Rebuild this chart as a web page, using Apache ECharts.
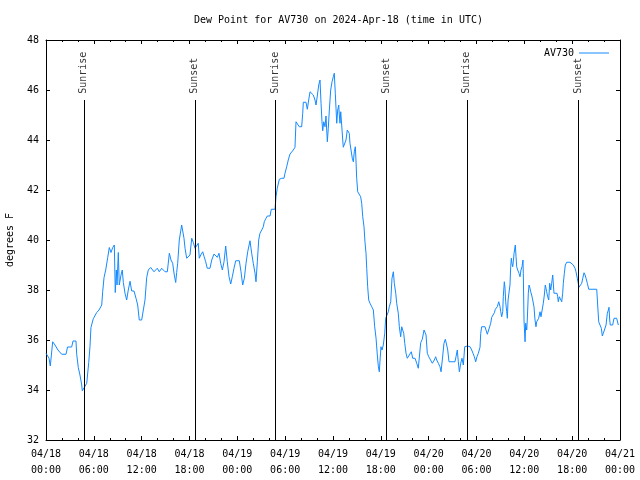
<!DOCTYPE html>
<html>
<head>
<meta charset="utf-8">
<script src="https://cdn.jsdelivr.net/npm/echarts@6/dist/echarts.min.js"></script>
<style>html,body{margin:0;padding:0;background:#fff;}#c{width:640px;height:480px;}</style>
</head>
<body>
<div id="c"></div>
<script>
// hours since 2024-04-18 00:00 UTC
const hours = [0.0,0.38,0.54,0.84,1.13,1.5,1.97,2.51,2.70,3.22,3.39,3.76,3.85,4.05,4.26,4.48,4.55,4.80,5.11,5.36,5.52,5.64,5.93,6.36,6.65,6.99,7.11,7.28,7.49,7.74,7.94,8.15,8.37,8.57,8.69,8.82,8.91,9.07,9.19,9.41,9.57,9.70,9.91,10.12,10.32,10.54,10.75,11.04,11.29,11.50,11.70,12.00,12.21,12.42,12.63,12.83,13.13,13.55,13.96,14.21,14.51,14.93,15.22,15.47,15.68,15.89,16.09,16.27,16.39,16.52,16.72,17.02,17.19,17.31,17.44,17.65,17.88,18.06,18.28,18.48,18.69,18.90,19.10,19.23,19.41,19.66,19.82,20.03,20.23,20.57,20.79,21.07,21.29,21.49,21.70,21.91,22.12,22.33,22.54,22.74,22.96,23.17,23.37,23.58,23.80,24.25,24.46,24.67,24.88,25.09,25.30,25.59,25.80,26.00,26.22,26.34,26.51,26.68,26.84,27.06,27.26,27.38,27.60,27.76,28.10,28.26,28.73,28.85,29.01,29.27,29.57,29.85,29.98,30.19,30.39,30.61,30.82,31.02,31.23,31.36,31.52,31.77,32.07,32.20,32.28,32.61,32.78,32.95,33.12,33.33,33.53,33.74,33.87,34.03,34.21,34.37,34.50,34.62,34.71,34.84,35.00,35.12,35.29,35.41,35.54,35.71,35.88,36.04,36.16,36.29,36.38,36.47,36.59,36.72,36.79,36.88,36.97,37.09,37.22,37.29,37.50,37.63,37.79,37.92,38.04,38.13,38.26,38.42,38.55,38.67,38.80,38.88,38.97,39.10,39.26,39.47,39.60,39.73,39.89,40.01,40.14,40.23,40.35,40.48,40.64,40.86,41.06,41.23,41.40,41.56,41.69,41.81,41.90,42.02,42.15,42.31,42.49,42.61,42.81,42.94,43.06,43.24,43.40,43.57,43.69,43.87,43.99,44.19,44.32,44.49,44.62,44.74,44.87,45.00,45.16,45.32,45.57,45.82,46.00,46.29,46.50,46.70,46.91,47.00,47.20,47.42,47.54,47.67,47.83,48.01,48.26,48.46,48.59,48.71,48.88,49.01,49.21,49.42,49.55,49.71,49.92,50.09,50.26,50.39,50.55,50.93,51.30,51.43,51.59,51.72,51.85,52.02,52.18,52.35,52.52,52.85,53.19,53.40,53.56,53.73,53.90,54.06,54.23,54.44,54.53,54.65,55.07,55.19,55.36,55.61,55.78,55.91,56.11,56.24,56.36,56.61,56.79,56.87,56.95,57.04,57.16,57.29,57.36,57.49,57.58,57.66,57.79,57.87,57.96,58.12,58.20,58.29,58.37,58.45,58.54,58.62,58.71,58.79,58.87,58.96,59.04,59.17,59.33,59.46,59.58,59.71,59.83,59.87,59.96,60.09,60.17,60.30,60.37,60.50,60.59,60.71,60.80,60.92,61.05,61.21,61.34,61.46,61.55,61.67,61.80,61.97,62.09,62.22,62.38,62.51,62.63,62.72,62.80,62.93,63.06,63.18,63.31,63.43,63.56,63.72,64.10,64.18,64.26,64.39,64.56,64.69,64.81,64.89,65.02,65.14,65.32,65.73,65.94,66.14,66.36,66.48,66.64,66.77,66.86,67.07,67.20,67.33,67.49,67.62,67.74,67.90,68.08,69.08,69.20,69.33,69.49,69.66,69.78,69.91,70.08,70.25,70.41,70.54,70.62,70.71,70.78,71.08,71.25,71.58,71.71,71.79];
const dewPoint = [35.47,35.27,34.96,35.93,35.8,35.6,35.43,35.43,35.72,35.72,35.96,35.96,35.43,34.9,34.6,34.2,33.97,34.1,34.27,35.1,35.75,36.5,36.85,37.1,37.2,37.4,37.93,38.5,38.8,39.3,39.7,39.5,39.7,39.8,37.9,38.8,38.2,39.5,38.2,38.6,38.8,38.3,37.87,37.6,38.0,38.35,37.96,37.96,37.67,37.4,36.8,36.8,37.2,37.6,38.5,38.8,38.9,38.73,38.87,38.73,38.87,38.73,38.73,39.47,39.2,39.07,38.6,38.3,38.7,39.07,40.0,40.6,40.6,40.07,39.67,39.27,39.3,39.4,40.07,39.9,39.67,39.75,39.87,39.27,39.4,39.53,39.35,39.13,38.87,38.87,39.2,39.44,39.47,39.31,39.47,39.07,38.8,39.13,39.76,39.13,38.53,38.24,38.53,38.87,39.17,39.17,38.73,38.2,38.47,39.07,39.53,39.97,39.47,39.07,38.67,38.33,39.13,40.0,40.27,40.4,40.53,40.73,40.87,40.96,40.96,41.23,41.23,41.73,42.07,42.43,42.47,42.47,42.67,42.93,43.2,43.44,43.5,43.6,43.71,44.73,44.69,44.53,44.53,45.07,45.51,45.51,45.23,45.6,45.93,45.87,45.8,45.6,45.4,45.76,46.2,46.4,45.47,44.73,44.37,44.73,44.53,44.96,43.93,44.47,45.2,46.0,46.33,46.53,46.67,45.87,45.27,44.67,45.2,45.4,45.0,44.67,45.13,44.6,44.0,43.71,43.76,44.0,44.4,44.43,44.27,43.87,43.6,43.27,43.13,43.53,43.73,43.2,42.47,41.93,41.87,41.73,41.47,40.93,40.53,39.93,39.47,38.87,38.13,37.6,37.47,37.33,37.2,36.53,36.07,35.4,34.93,34.73,35.2,35.73,35.6,35.8,36.27,36.87,36.93,37.13,37.33,37.53,38.47,38.73,38.27,37.87,37.47,37.07,36.53,36.13,36.53,36.53,36.27,35.87,35.47,35.27,35.27,35.53,35.27,35.27,35.07,34.87,34.87,35.89,36.03,36.4,36.47,36.2,35.47,35.33,35.27,35.07,35.07,35.2,35.33,35.2,35.07,34.93,34.73,35.2,35.87,36.03,35.8,35.6,35.13,35.13,35.13,35.33,35.6,35.13,34.73,35.07,35.27,35.0,35.73,35.76,35.73,35.6,35.47,35.33,35.13,35.33,35.47,35.71,36.27,36.53,36.53,36.4,36.23,36.23,36.67,36.91,36.91,37.09,37.23,37.33,37.53,37.6,37.33,37.13,36.93,37.13,37.73,38.33,38.07,37.53,37.13,36.87,37.6,37.6,38.2,38.93,39.27,39.07,38.93,39.13,39.47,39.4,39.8,39.33,38.93,38.8,38.67,38.53,38.8,38.93,39.2,38.67,36.8,35.93,36.67,36.4,36.8,37.87,38.2,38.07,37.93,37.8,37.6,37.33,36.8,36.53,36.73,36.67,36.87,37.13,36.93,36.87,37.47,37.8,38.2,38.07,37.93,37.73,37.6,38.27,38.0,38.27,38.6,37.87,37.87,37.73,37.53,37.73,37.73,37.53,37.87,38.27,38.67,39.0,39.11,39.11,39.03,39.0,38.87,38.73,38.47,38.4,38.11,38.11,38.27,38.47,38.69,38.6,38.47,38.27,38.03,38.03,37.4,36.73,36.6,36.47,36.16,36.27,36.33,36.6,37.07,37.2,37.31,36.8,36.6,36.6,36.87,36.87,36.8,36.6];
const eventHours = [4.75, 18.67, 28.73, 42.67, 52.78, 66.72];
const eventNames = ['Sunrise', 'Sunset', 'Sunrise', 'Sunset', 'Sunrise', 'Sunset'];
const dayLabels = ['04/18', '04/19', '04/20', '04/21'];
const yTicks = [32, 34, 36, 38, 40, 42, 44, 46, 48];

const FONT = 'DejaVu Sans Mono';
const LINE_TOP = 45.6;
const LABEL_BASE = 45.85;
const yMin = yTicks[0], yMax = yTicks[yTicks.length - 1];

const seriesData = hours.map((h, i) => [h, dewPoint[i]]);
const markData = eventHours.map(h => [{coord: [h, LINE_TOP]}, {coord: [h, yMin]}]);
const labelData = eventHours.map((h, i) => [h, LABEL_BASE, eventNames[i]]);

function xFmt(v) {
  const d = Math.floor(v / 24 + 1e-9);
  const hh = Math.round(v - d * 24);
  return dayLabels[d] + '\n' + String(hh).padStart(2, '0') + ':00';
}

const chart = echarts.init(document.getElementById('c'), null, {renderer: 'canvas'});
chart.setOption({
  animation: false,
  backgroundColor: '#ffffff',
  textStyle: {fontFamily: FONT},
  title: {
    text: 'Dew Point for AV730 on 2024-Apr-18 (time in UTC)',
    left: 189, top: 10,
    textStyle: {fontFamily: FONT, fontSize: 10, fontWeight: 'normal', color: '#000'}
  },
  legend: {
    data: ['AV730'],
    right: 26, top: 43,
    align: 'right',
    icon: 'rect', itemWidth: 30, itemHeight: 1, itemGap: 6,
    textStyle: {fontFamily: FONT, fontSize: 10, color: '#000'}
  },
  grid: {left: 46, right: 20, top: 40, bottom: 40, outerBoundsMode: 'none', containLabel: false},
  xAxis: [{
    type: 'value', min: 0, max: 72, interval: 6, position: 'bottom',
    axisLine: {onZero: false, lineStyle: {color: '#000', width: 1}},
    axisTick: {inside: true, length: 4, lineStyle: {color: '#000'}},
    minorTick: {show: true, splitNumber: 3, length: 2, lineStyle: {color: '#000'}},
    splitLine: {show: false},
    axisLabel: {formatter: xFmt, fontFamily: FONT, fontSize: 10, color: '#000', lineHeight: 16, margin: 6}
  }, {
    type: 'value', min: 0, max: 72, interval: 6, position: 'top',
    axisLine: {onZero: false, lineStyle: {color: '#000', width: 1}},
    axisTick: {inside: true, length: 4, lineStyle: {color: '#000'}},
    minorTick: {show: true, splitNumber: 3, length: 2, lineStyle: {color: '#000'}},
    splitLine: {show: false},
    axisLabel: {show: false}
  }],
  yAxis: [{
    type: 'value', min: yMin, max: yMax, interval: 2, position: 'left',
    name: 'degrees F', nameLocation: 'middle', nameRotate: 90, nameGap: 31,
    nameTextStyle: {fontFamily: FONT, fontSize: 10, color: '#000'},
    axisLine: {show: true, onZero: false, lineStyle: {color: '#000', width: 1}},
    axisTick: {show: true, inside: true, length: 4, lineStyle: {color: '#000'}},
    splitLine: {show: false},
    axisLabel: {fontFamily: FONT, fontSize: 10, color: '#000', margin: 7}
  }, {
    type: 'value', min: yMin, max: yMax, interval: 2, position: 'right',
    axisLine: {show: true, onZero: false, lineStyle: {color: '#000', width: 1}},
    axisTick: {show: true, inside: true, length: 4, lineStyle: {color: '#000'}},
    splitLine: {show: false},
    axisLabel: {show: false}
  }],
  series: [{
    name: 'AV730', type: 'line', data: seriesData,
    xAxisIndex: 0, yAxisIndex: 0,
    showSymbol: false, symbol: 'none',
    lineStyle: {color: '#148aff', width: 1},
    itemStyle: {color: '#148aff'},
    markLine: {
      silent: true, symbol: 'none', animation: false,
      lineStyle: {color: '#000', width: 1, type: 'solid'},
      label: {show: false},
      emphasis: {disabled: true},
      data: markData
    },
    z: 3
  }, {
    name: 'events', type: 'scatter', data: labelData,
    xAxisIndex: 0, yAxisIndex: 0,
    symbolSize: 1, itemStyle: {color: 'transparent'},
    silent: true,
    label: {
      show: true, position: 'inside', rotate: 90, align: 'left', verticalAlign: 'middle',
      formatter: p => p.value[2],
      fontFamily: FONT, fontSize: 10, color: '#000'
    }
  }]
});
</script>
</body>
</html>
